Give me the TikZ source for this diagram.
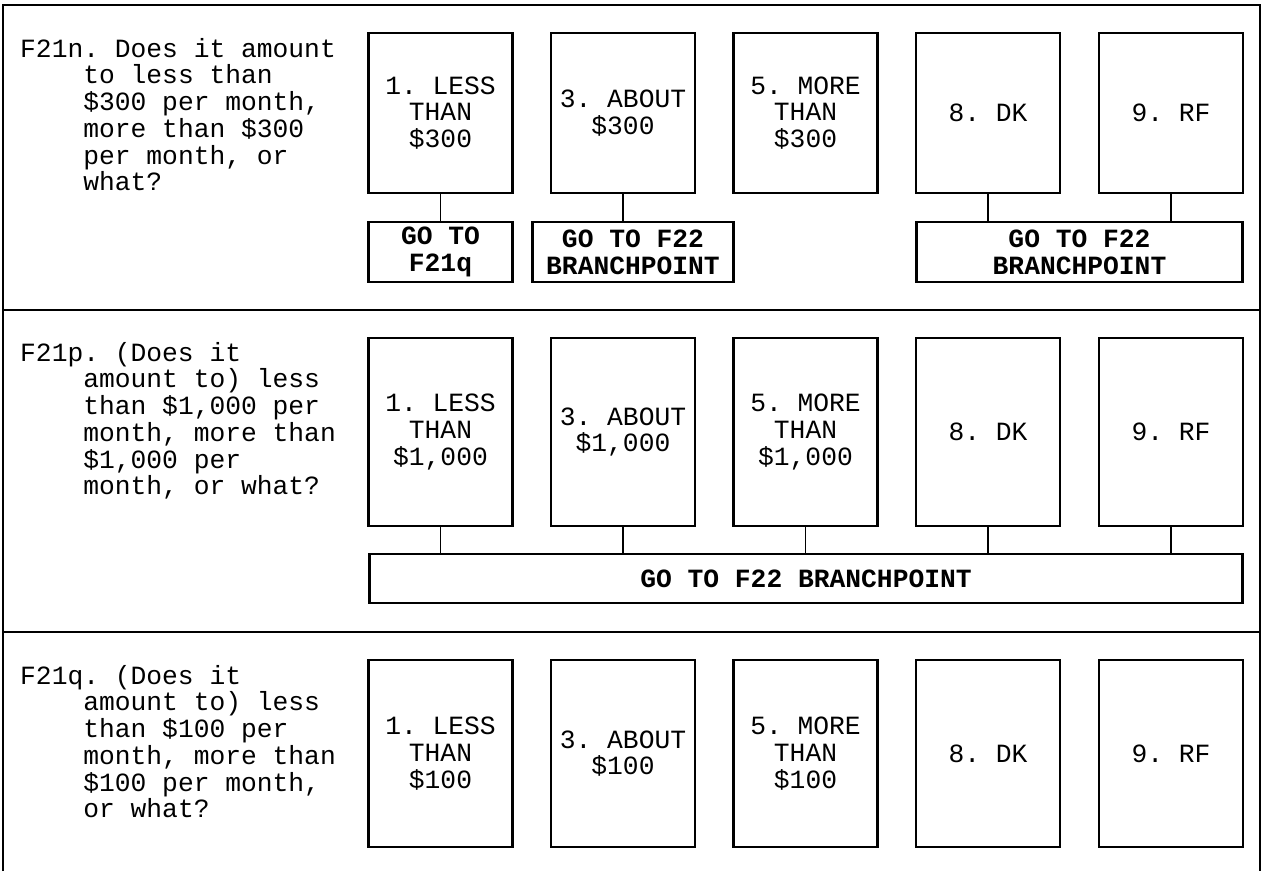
\documentclass[tikz,border=0pt]{standalone}
\usepackage{fontspec}
\setmonofont{Liberation Mono}
\newcommand\qfont{\fontsize{26.3}{26.7}\selectfont\ttfamily}
\newcommand\ind{\hphantom{0000}}
\tikzset{
  ans/.style={draw,line width=2.2pt,inner sep=0pt,minimum width=144pt,align=center},
  goto/.style={draw,line width=2.2pt,inner sep=0pt,align=center,font=\qfont\bfseries},
  quest/.style={anchor=north west,inner sep=0pt,align=left},
  link/.style={line width=1.6pt}
}
\begin{document}
\begin{tikzpicture}[x=1pt,y=-1pt,font=\qfont]
\useasboundingbox (0,0) rectangle (1262,871);
% frame and rows
\draw [line width=2.4pt] (3,871) -- (3,5) -- (1260,5) -- (1260,871);
\draw [line width=2.4pt] (3,310) -- (1260,310);
\draw [line width=2.4pt] (3,632) -- (1260,632);

% F21n
\node [quest] (qn) at (20,38) {F21n. Does it amount\\\ind to less than\\\ind \$300 per month,\\\ind more than \$300\\\ind per month, or\\\ind what?};
\begin{scope}[every node/.append style={minimum height=160pt}]
\node [ans] (n1) at (440.5,113) {1. LESS\\THAN\\\$300};
\node [ans] (n3) at (623,113)   {3. ABOUT\\\$300};
\node [ans] (n5) at (805.5,113) {5. MORE\\THAN\\\$300};
\node [ans] (n8) at (988,113)   {8. DK};
\node [ans] (n9) at (1171,113)  {9. RF};
\end{scope}
\node [goto,minimum width=144pt,minimum height=60pt] (gn1) at (440.5,252) {GO TO\\F21q};
\node [goto,minimum width=201pt,minimum height=60pt] (gn2) at (633,252) {GO TO F22\\BRANCHPOINT};
\node [goto,minimum width=326pt,minimum height=60pt] (gn3) at (1079.5,252) {GO TO F22\\BRANCHPOINT};
\draw [link] (n1.south) -- (n1.south |- gn1.north);
\draw [link] (n3.south) -- (n3.south |- gn2.north);
\draw [link] (n8.south) -- (n8.south |- gn3.north);
\draw [link] (n9.south) -- (n9.south |- gn3.north);

% F21p
\node [quest] (qp) at (20,342) {F21p. (Does it\\\ind amount to) less\\\ind than \$1,000 per\\\ind month, more than\\\ind \$1,000 per\\\ind month, or what?};
\begin{scope}[every node/.append style={minimum height=188pt}]
\node [ans] (p1) at (440.5,432) {1. LESS\\THAN\\\$1,000};
\node [ans] (p3) at (623,432)   {3. ABOUT\\\$1,000};
\node [ans] (p5) at (805.5,432) {5. MORE\\THAN\\\$1,000};
\node [ans] (p8) at (988,432)   {8. DK};
\node [ans] (p9) at (1171,432)  {9. RF};
\end{scope}
\node [goto,minimum width=873pt,minimum height=49pt] (gp) at (806,578.5) {GO TO F22 BRANCHPOINT};
\foreach \b in {p1,p3,p5,p8,p9}
  \draw [link] (\b.south) -- (\b.south |- gp.north);

% F21q
\node [quest] (qq) at (20,665) {F21q. (Does it\\\ind amount to) less\\\ind than \$100 per\\\ind month, more than\\\ind \$100 per month,\\\ind or what?};
\begin{scope}[every node/.append style={minimum height=187pt}]
\node [ans] (q1) at (440.5,753.5) {1. LESS\\THAN\\\$100};
\node [ans] (q3) at (623,753.5)   {3. ABOUT\\\$100};
\node [ans] (q5) at (805.5,753.5) {5. MORE\\THAN\\\$100};
\node [ans] (q8) at (988,753.5)   {8. DK};
\node [ans] (q9) at (1171,753.5)  {9. RF};
\end{scope}
\end{tikzpicture}
\end{document}
